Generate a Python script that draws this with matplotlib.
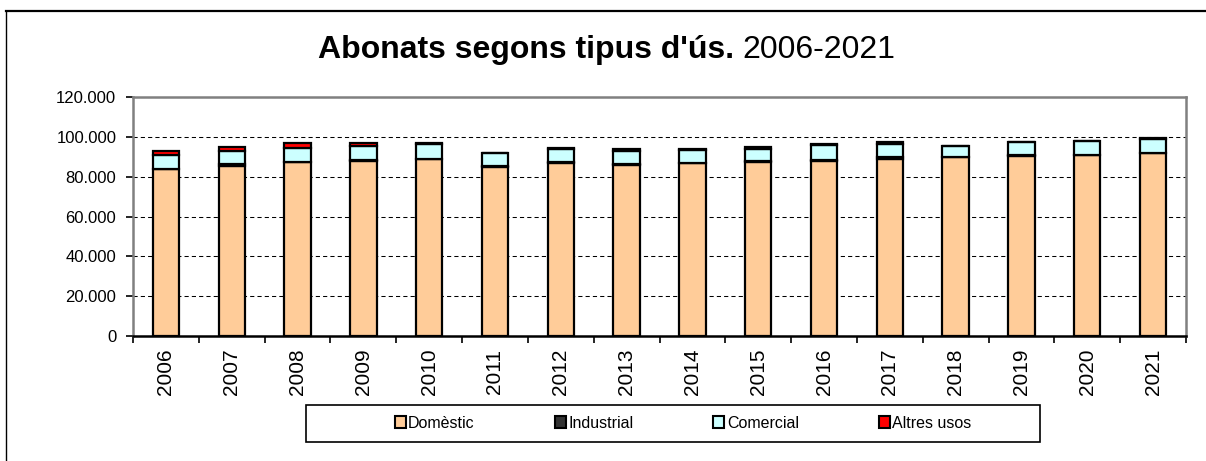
import matplotlib
matplotlib.use("Agg")
import matplotlib.pyplot as plt
import matplotlib.ticker as mtick
from matplotlib.patches import Patch, Rectangle
from matplotlib.lines import Line2D
import numpy as np

# ==========================================================
# Data
# ==========================================================
years = ["2006", "2007", "2008", "2009", "2010", "2011", "2012", "2013",
         "2014", "2015", "2016", "2017", "2018", "2019", "2020", "2021"]

domestic = [83650, 85150, 87225, 87650, 88925, 84925, 86725, 86075,
            86725, 87225, 87725, 89075, 89725, 90575, 90725, 91725]
industrial = [350, 1000, 200, 900, 150, 650, 500, 500,
              200, 500, 850, 850, 350, 200, 200, 100]
comercial = [6950, 6950, 7025, 6675, 7225, 6150, 6450, 6500,
             6700, 6300, 7350, 6650, 5150, 6450, 7000, 7000]
altres = [1900, 1900, 2300, 1900, 500, 350, 500, 700,
          350, 850, 350, 850, 200, 200, 200, 600]

series_labels = ["Domèstic", "Industrial", "Comercial", "Altres usos"]
series_colors = ["#FFCC99", "#333333", "#CCFFFF", "#FF0000"]

plt.rcParams["font.family"] = ["Liberation Sans", "DejaVu Sans"]

W, H = 1206, 461
fig = plt.figure(figsize=(W / 100, H / 100), dpi=100)
fig.patch.set_facecolor("white")

# plot area
ax = fig.add_axes([133 / W, 1 - 336 / H, (1186 - 133) / W, (336 - 97) / H])

x = np.arange(len(years))
bottom = np.zeros(len(years))
for vals, lab, col in zip([domestic, industrial, comercial, altres],
                          series_labels, series_colors):
    ax.bar(x, vals, bottom=bottom, width=0.40, color=col,
           edgecolor="black", linewidth=1.6, label=lab, zorder=3)
    bottom += np.array(vals)

ax.set_xlim(-0.5, len(years) - 0.5)
ax.set_ylim(0, 120000)

# y axis
ax.yaxis.set_major_locator(mtick.MultipleLocator(20000))
ax.yaxis.set_major_formatter(
    mtick.FuncFormatter(lambda v, pos: f"{int(v):,}".replace(",", "."))
)
ax.tick_params(axis="y", direction="out", length=5, width=1.2,
               color="black", pad=7, labelsize=12)
ax.grid(axis="y", color="black", linestyle=(0, (4, 3)), linewidth=0.75,
        zorder=0)
ax.set_axisbelow(True)

# x axis: labels at centres, ticks at boundaries
ax.set_xticks(x)
ax.set_xticklabels(years, rotation=90, fontsize=15)
ax.tick_params(axis="x", which="major", length=0, pad=9)
ax.set_xticks(np.arange(-0.5, len(years)), minor=True)
ax.tick_params(axis="x", which="minor", direction="out", length=5,
               width=1.2, color="black")

for side in ["left", "top", "right"]:
    ax.spines[side].set_color("#808080")
    ax.spines[side].set_linewidth(1.8)
ax.spines["bottom"].set_color("black")
ax.spines["bottom"].set_linewidth(1.8)

# title
fig.text(734 / W, 1 - 58 / H, "Abonats segons tipus d'ús.",
         ha="right", va="baseline", fontsize=23, fontweight="bold")
fig.text(742 / W, 1 - 58 / H, "2006-2021",
         ha="left", va="baseline", fontsize=23)

# legend
handles = [Patch(facecolor=c, edgecolor="black", linewidth=1.5)
           for c in series_colors]
fig.legend(handles, series_labels, loc="center",
           bbox_to_anchor=(683 / W, 1 - 423 / H), ncol=4, frameon=False,
           fontsize=11.5, handlelength=0.7, handleheight=0.7,
           handletextpad=0.15, columnspacing=5.0)
fig.add_artist(Rectangle((306 / W, 1 - 442 / H), 734 / W, 37 / H,
                         transform=fig.transFigure, fill=False,
                         edgecolor="black", linewidth=1.2))

# outer chart frame (top and left edges visible)
fig.add_artist(Line2D([6 / W, 1], [1 - 11 / H, 1 - 11 / H],
                      transform=fig.transFigure, color="black", linewidth=1.6))
fig.add_artist(Line2D([6 / W, 6 / W], [0, 1 - 11 / H],
                      transform=fig.transFigure, color="black", linewidth=1.0))

fig.savefig("out.png", dpi=100, facecolor="white")
